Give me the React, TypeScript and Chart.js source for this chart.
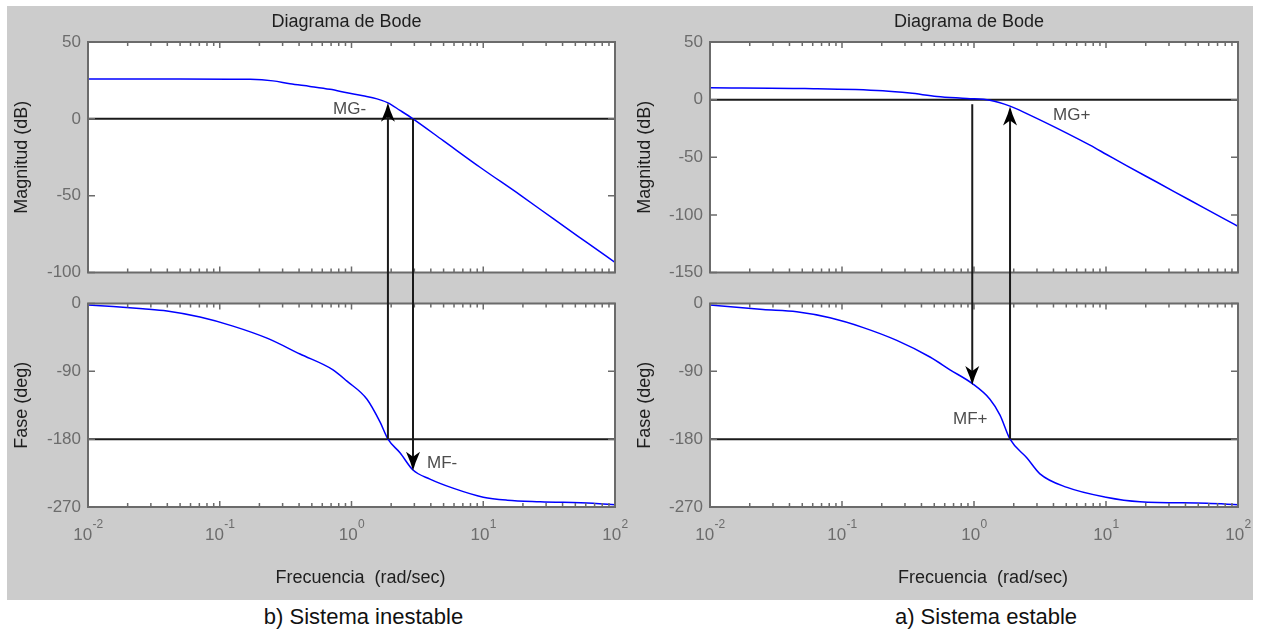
import React, { useEffect, useRef } from 'react';
import { Chart, registerables } from 'chart.js';

Chart.register(...registerables);

const FONT = '"Liberation Sans", Arial, Helvetica, sans-serif';

// ---------------- Data ----------------
const DECADES = [0.01, 0.1, 1, 10, 100];
const DECADE_EXPONENTS = ['-2', '-1', '0', '1', '2'];
const MINOR_MULTIPLIERS = [2, 3, 4, 5, 6, 7, 8, 9];

const MAG_TICKS_INESTABLE = [-100, -50, 0, 50];
const MAG_TICKS_ESTABLE = [-150, -100, -50, 0, 50];
const PHASE_TICKS = [-270, -180, -90, 0];

// b) Sistema inestable
const FREQ_MAG_INESTABLE = [0.01, 0.05, 0.17, 0.2535, 0.341, 0.484, 0.687, 0.924, 1.222, 1.562, 1.892, 2.334, 2.929, 4.97, 9.45, 19.0, 34.0, 61.0, 100];
const MAG_INESTABLE = [26, 26, 25.7, 24.7, 22.8, 21.1, 19.2, 17, 15, 13, 10.4, 5.5, 0, -14.2, -31.5, -49.5, -65, -80.4, -93.4];
const FREQ_PHASE_INESTABLE = [0.01, 0.0155, 0.0261, 0.0398, 0.0708, 0.126, 0.2284, 0.4066, 0.724, 0.924, 1.311, 1.645, 1.892, 2.334, 2.93, 3.94, 5.89, 10, 15.2, 27, 68.1, 100];
const PHASE_INESTABLE = [-2, -4, -7, -10, -18, -30, -46, -67, -88, -103, -127, -157, -180, -198, -221, -233, -245, -257, -261, -263, -265, -267];

// a) Sistema estable
const FREQ_MAG_ESTABLE = [0.01, 0.0524, 0.2039, 0.327, 0.524, 0.885, 1.32, 1.875, 2.51, 5.04, 7.56, 10.1, 14.3, 24.2, 43.3, 77.4, 100];
const MAG_ESTABLE = [10.3, 9.6, 7.7, 5.7, 2.8, 1.0, -0.5, -5.6, -12.1, -29, -39.5, -47.6, -57.3, -71.5, -87.3, -103, -110];
const FREQ_PHASE_ESTABLE = [0.01, 0.0252, 0.0454, 0.0811, 0.145, 0.26, 0.464, 0.658, 0.966, 1.32, 1.574, 1.875, 2.52, 3.16, 5.07, 10, 18.1, 58.2, 100];
const PHASE_ESTABLE = [-2, -8, -11, -19, -32, -49, -71, -88, -106, -127, -148, -180, -205, -226, -244, -257, -263, -265, -267];

// margin arrows (frequency, magnitude end, phase end, direction)
const ARROWS_INESTABLE = [
  { freq: 1.89, mag: 10.4, phase: -180, dir: 'up' },
  { freq: 2.93, mag: 0, phase: -222, dir: 'down' },
];
const ARROWS_ESTABLE = [
  { freq: 0.97, mag: -4, phase: -108, dir: 'down' },
  { freq: 1.875, mag: -6, phase: -180, dir: 'up' },
];
const LABELS_INESTABLE = [
  { text: 'MG-', plot: 'mag', freq: 0.724, value: 3.4 },
  { text: 'MF-', plot: 'phase', freq: 3.74, value: -218 },
];
const LABELS_ESTABLE = [
  { text: 'MG+', plot: 'mag', freq: 3.97, value: -18.1 },
  { text: 'MF+', plot: 'phase', freq: 0.693, value: -160 },
];

const TITLE = 'Diagrama de Bode';
const MAG_LABEL = 'Magnitud (dB)';
const PHASE_LABEL = 'Fase (deg)';
const FREQ_LABEL = 'Frecuencia  (rad/sec)';
const CAPTION_INESTABLE = 'b) Sistema inestable';
const CAPTION_ESTABLE = 'a) Sistema estable';

// ---------------- Styles / layout ----------------
const X_MIN = 0.01;
const X_MAX = 100;
const GRAY_BG = '#cccccc';
const CURVE = '#0000ff';
const REF = '#1a1a1a';
const FRAME = '#6b6b6b';
const TICK_TEXT = '#6c6c6c';
const LABEL_TEXT = '#1e1e1e';
const NOTE_TEXT = '#4d4d4d';
const CANVAS_W = 623;
const RIGHT_PAD = 15;
const MAG_TOP = 6;
const MAG_H = 282;
const PHASE_TOP = 288;
const PHASE_H = 312;

type Arrow = { freq: number; mag: number; phase: number; dir: string };
type Note = { text: string; plot: string; freq: number; value: number };

interface Spec {
  kind: 'mag' | 'phase';
  freqs: number[];
  values: number[];
  yTicks: number[];
  refValue: number;
  yLabel: string;
  axisWidth: number;
  padTop: number;
  xHeight: number;
  arrows: Arrow[];
  notes: Note[];
}

function drawHead(ctx: CanvasRenderingContext2D, x: number, y: number, up: boolean) {
  const s = up ? 1 : -1;
  ctx.beginPath();
  ctx.moveTo(x, y);
  ctx.lineTo(x + 2.5, y + 8 * s);
  ctx.lineTo(x + 7, y + 19 * s);
  ctx.lineTo(x, y + 14 * s);
  ctx.lineTo(x - 7, y + 19 * s);
  ctx.lineTo(x - 2.5, y + 8 * s);
  ctx.closePath();
  ctx.fill();
}

function decorPlugin(spec: Spec) {
  return {
    id: 'bodeDecor',
    beforeDraw(chart: any) {
      const { ctx, chartArea: a } = chart;
      ctx.save();
      ctx.fillStyle = '#ffffff';
      ctx.fillRect(a.left, a.top, a.right - a.left, a.bottom - a.top);
      ctx.restore();
    },
    afterDraw(chart: any) {
      const { ctx, chartArea: a } = chart;
      const xs = chart.scales.x;
      const ys = chart.scales.y;
      ctx.save();

      // frame
      ctx.strokeStyle = FRAME;
      ctx.lineWidth = 2;
      ctx.strokeRect(a.left, a.top, a.right - a.left, a.bottom - a.top);

      // x ticks (inward, top and bottom)
      ctx.lineWidth = 1.5;
      ctx.beginPath();
      DECADES.forEach((d, i) => {
        const x = xs.getPixelForValue(d);
        ctx.moveTo(x, a.top); ctx.lineTo(x, a.top + 6);
        ctx.moveTo(x, a.bottom); ctx.lineTo(x, a.bottom - 6);
        if (i < DECADES.length - 1) {
          MINOR_MULTIPLIERS.forEach((m) => {
            const xm = xs.getPixelForValue(m * d);
            ctx.moveTo(xm, a.top); ctx.lineTo(xm, a.top + 4);
            ctx.moveTo(xm, a.bottom); ctx.lineTo(xm, a.bottom - 4);
          });
        }
      });
      // y ticks (inward, left and right)
      ys.ticks.forEach((t: any) => {
        const y = ys.getPixelForValue(t.value);
        ctx.moveTo(a.left, y); ctx.lineTo(a.left + 7, y);
        ctx.moveTo(a.right, y); ctx.lineTo(a.right - 7, y);
      });
      ctx.stroke();

      // arrows
      ctx.strokeStyle = REF;
      ctx.fillStyle = '#000000';
      ctx.lineWidth = 2;
      spec.arrows.forEach((ar) => {
        const x = xs.getPixelForValue(ar.freq);
        ctx.beginPath();
        if (spec.kind === 'mag') {
          const y0 = ys.getPixelForValue(ar.mag);
          ctx.moveTo(x, y0 + (ar.dir === 'up' ? 6 : 0));
          ctx.lineTo(x, chart.height);
          ctx.stroke();
          if (ar.dir === 'up') drawHead(ctx, x, y0, true);
        } else {
          const y1 = ys.getPixelForValue(ar.phase);
          ctx.moveTo(x, 0);
          ctx.lineTo(x, y1 - (ar.dir === 'down' ? 6 : 0));
          ctx.stroke();
          if (ar.dir === 'down') drawHead(ctx, x, y1, false);
        }
      });

      // notes
      ctx.font = `17px ${FONT}`;
      ctx.fillStyle = NOTE_TEXT;
      ctx.textAlign = 'left';
      ctx.textBaseline = 'alphabetic';
      spec.notes.forEach((n) => {
        if (n.plot !== spec.kind) return;
        ctx.fillText(n.text, xs.getPixelForValue(n.freq), ys.getPixelForValue(n.value));
      });

      const cx = (a.left + a.right) / 2;
      if (spec.kind === 'mag') {
        ctx.font = `18px ${FONT}`;
        ctx.fillStyle = LABEL_TEXT;
        ctx.textAlign = 'center';
        ctx.fillText(TITLE, cx - 5, 21);
      } else {
        // x tick labels 10^n
        ctx.fillStyle = TICK_TEXT;
        ctx.textAlign = 'left';
        DECADES.forEach((d, i) => {
          const x = xs.getPixelForValue(d);
          ctx.font = `17px ${FONT}`;
          const w10 = ctx.measureText('10').width;
          ctx.font = `12px ${FONT}`;
          const we = ctx.measureText(DECADE_EXPONENTS[i]).width;
          const x0 = x - (w10 + we) / 2;
          ctx.font = `17px ${FONT}`;
          ctx.fillText('10', x0, 252);
          ctx.font = `12px ${FONT}`;
          ctx.fillText(DECADE_EXPONENTS[i], x0 + w10 + 0.5, 240);
        });
        ctx.font = `18px ${FONT}`;
        ctx.fillStyle = LABEL_TEXT;
        ctx.textAlign = 'center';
        ctx.fillText(FREQ_LABEL, cx + 9, 295);
      }
      ctx.restore();
    },
  };
}

function buildConfig(spec: Spec): any {
  const ticksSorted = [...spec.yTicks].sort((p, q) => p - q);
  return {
    type: 'line',
    data: {
      datasets: [
        {
          data: spec.freqs.map((f, i) => ({ x: f, y: spec.values[i] })),
          borderColor: CURVE,
          borderWidth: 1.5,
          pointRadius: 0,
          cubicInterpolationMode: 'monotone',
          fill: false,
          order: 0,
        },
        {
          data: [{ x: X_MIN, y: spec.refValue }, { x: X_MAX, y: spec.refValue }],
          borderColor: REF,
          borderWidth: 2,
          pointRadius: 0,
          fill: false,
          order: 1,
        },
      ],
    },
    options: {
      animation: false,
      responsive: false,
      maintainAspectRatio: false,
      devicePixelRatio: 1,
      events: [],
      layout: { padding: { top: spec.padTop, right: RIGHT_PAD, bottom: 0, left: 0 } },
      plugins: { legend: { display: false }, tooltip: { enabled: false }, title: { display: false } },
      scales: {
        x: {
          type: 'logarithmic',
          min: X_MIN,
          max: X_MAX,
          position: 'bottom',
          grid: { display: false, drawTicks: false },
          border: { display: false },
          ticks: { display: false },
          afterFit: (s: any) => { s.height = spec.xHeight; },
        },
        y: {
          type: 'linear',
          min: ticksSorted[0],
          max: ticksSorted[ticksSorted.length - 1],
          position: 'left',
          grid: { display: false, drawTicks: false },
          border: { display: false },
          afterBuildTicks: (s: any) => { s.ticks = ticksSorted.map((v) => ({ value: v })); },
          ticks: {
            color: TICK_TEXT,
            font: { family: FONT, size: 17, lineHeight: 1 },
            padding: 7,
            autoSkip: false,
            maxRotation: 0,
            callback: (v: any) => String(v),
          },
          title: {
            display: true,
            text: spec.yLabel,
            color: LABEL_TEXT,
            font: { family: FONT, size: 18, lineHeight: 1.2 },
            padding: { top: 4.5, bottom: 0 },
          },
          afterFit: (s: any) => { s.width = spec.axisWidth; },
        },
      },
    },
    plugins: [decorPlugin(spec)],
  };
}

function Subplot({ left, top, height, spec }: { left: number; top: number; height: number; spec: Spec }) {
  const ref = useRef<HTMLCanvasElement>(null);
  useEffect(() => {
    const chart = new Chart(ref.current as HTMLCanvasElement, buildConfig(spec));
    return () => chart.destroy();
  }, []);
  return (
    <canvas
      ref={ref}
      width={CANVAS_W}
      height={height}
      style={{ position: 'absolute', left, top, width: CANVAS_W, height }}
    />
  );
}

function Panel({ left, axisWidth, magFreqs, mag, magTicks, phaseFreqs, phase, arrows, notes, caption }: any) {
  const magSpec: Spec = {
    kind: 'mag', freqs: magFreqs, values: mag, yTicks: magTicks, refValue: 0, yLabel: MAG_LABEL,
    axisWidth, padTop: 36, xHeight: 11, arrows, notes,
  };
  const phaseSpec: Spec = {
    kind: 'phase', freqs: phaseFreqs, values: phase, yTicks: PHASE_TICKS, refValue: -180, yLabel: PHASE_LABEL,
    axisWidth, padTop: 10, xHeight: 93, arrows, notes,
  };
  const plotCenter = left + axisWidth + (CANVAS_W - axisWidth - RIGHT_PAD) / 2;
  return (
    <>
      <Subplot left={left} top={MAG_TOP} height={MAG_H} spec={magSpec} />
      <Subplot left={left} top={PHASE_TOP} height={PHASE_H} spec={phaseSpec} />
      <div
        style={{
          position: 'absolute', left: plotCenter + 12 - 200, top: 604, width: 400,
          textAlign: 'center', font: `22px/26px ${FONT}`, color: '#111111', whiteSpace: 'pre',
        }}
      >
        {caption}
      </div>
    </>
  );
}

export default function App() {
  return (
    <div style={{ position: 'absolute', left: 0, top: 0, width: 1264, height: 632, background: '#ffffff', overflow: 'hidden' }}>
      <div style={{ position: 'absolute', left: 7, top: 6, width: 1246, height: 594, background: GRAY_BG }} />
      <Panel
        left={7}
        axisWidth={81}
        magFreqs={FREQ_MAG_INESTABLE}
        mag={MAG_INESTABLE}
        magTicks={MAG_TICKS_INESTABLE}
        phaseFreqs={FREQ_PHASE_INESTABLE}
        phase={PHASE_INESTABLE}
        arrows={ARROWS_INESTABLE}
        notes={LABELS_INESTABLE}
        caption={CAPTION_INESTABLE}
      />
      <Panel
        left={630}
        axisWidth={80}
        magFreqs={FREQ_MAG_ESTABLE}
        mag={MAG_ESTABLE}
        magTicks={MAG_TICKS_ESTABLE}
        phaseFreqs={FREQ_PHASE_ESTABLE}
        phase={PHASE_ESTABLE}
        arrows={ARROWS_ESTABLE}
        notes={LABELS_ESTABLE}
        caption={CAPTION_ESTABLE}
      />
    </div>
  );
}
